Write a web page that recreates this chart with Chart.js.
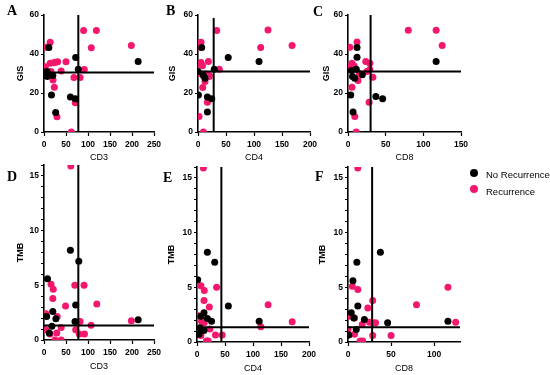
<!DOCTYPE html>
<html>
<head>
<meta charset="utf-8">
<script src="https://cdn.jsdelivr.net/npm/chart.js@4.4.1/dist/chart.umd.min.js"></script>
<style>
  body { margin: 0; background: #fff; width: 550px; height: 375px; position: relative; overflow: hidden;
         font-family: "Liberation Sans", Arial, sans-serif; }
  canvas { position: absolute; }
  .tag { position: absolute; font: bold 14px "Liberation Serif", "Times New Roman", serif; line-height: 1; }
  .key { position: absolute; font-size: 9.5px; line-height: 1; white-space: nowrap; }
  .key i { position: absolute; left: -16px; top: -1.5px; width: 8px; height: 8px; border-radius: 50%; }
</style>
</head>
<body>

<script>
// GIS vs CD3 / CD4 / CD8  (top row)
const gisCd3No  = [[11,43.3],[72,38.2],[78,32.2],[214,36.2],[7,31],[7,28.4],[20,29],[17,19],[26.5,10],[60,18],[71,17]];
const gisCd3Yes = [[5,43.4],[14,46],[90,52],[119,52],[107.5,43.2],[198.5,44.3],[3,33.5],[14,35.2],[22,35.5],[26,35.8],
                   [31,36],[50,36],[39,31.3],[16,31],[20.5,26.7],[23.5,22.9],[29.5,7.8],[62,0],[68,28],[82,28],[71,15],[91.6,32]];
const gisCd4No  = [[6.6,43.3],[54,38.2],[109,36.1],[29,32.2],[0,31],[9.6,29],[12.5,27.6],[0.7,19],[16.8,17.9],[24.5,17],[16.8,10.2]];
const gisCd4Yes = [[33.4,52],[125,52.3],[168,44.3],[112,43.3],[5.4,46],[1.8,43.5],[5.4,35.6],[18.5,36.1],[38,32.2],[20,29],
                   [12.5,25.9],[8.4,22.8],[16.8,15.2],[1.8,8],[9.6,0],[3,34.8],[8,34],[14,29.8],[20,28.4],[4,30]];
const gisCd8No  = [[12,43.3],[12,38.3],[11,32.2],[4.5,31.5],[6,28.4],[9,27.6],[19,29.3],[3.6,19],[6.7,10.2],[37,18.2],[46,17],[117,36.1]];
const gisCd8Yes = [[80,52.2],[117,52.2],[125,44.3],[2.3,43.5],[12,46.2],[5.3,35.3],[23.6,36.1],[29,35.3],[13.3,26.4],[5.3,23],
                   [9,8],[11,0],[28,15.3],[33,28.1],[1.3,33.5],[8,34],[25,31],[15,30],[29,32]];

// TMB vs CD3 / CD4 / CD8  (bottom row)
const tmbCd3No  = [[8,5.6],[60,8.2],[79,7.2],[72,3.2],[20,2.6],[6,2.16],[27,1.95],[70.5,1.7],[18,1.25],[12,0.64],[214,1.85]];
const tmbCd3Yes = [[61,15.9],[70,5],[91,5],[16,5.1],[21,4.65],[20,3.8],[49,3.1],[120,3.3],[30,2.16],[4.5,2.4],[198.5,1.76],
                   [82,1.7],[107,1.34],[39,1.15],[4,0.94],[13.6,0.55],[29,0.64],[25,0],[39,0],[72,0.94],[80,0.55],[92,0.55]];
const tmbCd4No  = [[18.5,8.2],[31.6,7.3],[1.25,5.7],[56,3.3],[12.5,2.67],[7,2.36],[18.5,2.15],[26,1.9],[5.4,1.3],[12.5,1.06],[3.6,0.7],[111,1.9]];
const tmbCd4Yes = [[11.4,15.9],[35,5],[7,5.15],[13,4.7],[12.5,3.8],[22,3.2],[2.5,2.4],[13,1.75],[23,1.2],[2.5,1.15],[7,0.6],
                   [33,0.64],[45,0.64],[20,0.1],[17,0.1],[127,3.4],[170,1.85],[114,1.4],[8,1.9]];
const tmbCd8No  = [[10.3,7.3],[5.7,5.6],[11.4,3.3],[3.8,2.67],[6.8,2.2],[19,2.06],[46,1.76],[1,0.64],[9.6,1.15],[37.6,8.2],[116,1.9]];
const tmbCd8Yes = [[11.4,15.9],[5,5.1],[11.4,4.8],[23,3.1],[28.7,3.8],[1,2.36],[7.6,2.2],[16.5,1.6],[28.7,1.76],[0,1.15],
                   [7.6,0.7],[17,0.1],[14,0.1],[28.7,0.6],[50,0.6],[79.5,3.4],[116,5],[125,1.8],[32,1.76],[25,1.8]];

// cut-off lines
const cutGis = [30.5, 31, 31];        // horizontal, panels A B C
const cutTmb = [1.33, 1.35, 1.35];    // horizontal, panels D E F
const cutCdGis = [78, 28, 30];        // vertical, panels A B C
const cutCdTmb = [78, 43.5, 28];      // vertical, panels D E F

// ticks
const cd3Ticks = [0, 50, 100, 150, 200, 250];
const cd4Ticks = [0, 50, 100, 150, 200];
const cd8Ticks = [0, 50, 100, 150];
const cd8TmbTicks = [0, 50, 100];
const gisTicks = [0, 20, 40, 60];
const tmbTicks = [0,1,2,3,4,5,6,7,8,9,10,11,12,13,14,15,16];
const tmbLabels = [0, 5, 10, 15];

const legendNames = ["No Recurrence", "Recurrence"];
const black = "#000000";
const pink = "#F3186E";

function axis(min, max, ticks, labels, title, bold, isX, titlePad) {
  return {
    type: "linear", min: min, max: max,
    afterBuildTicks: (s) => { s.ticks = ticks.map(v => ({ value: v })); },
    afterFit: (s) => { if (isX) s.height = 34; else s.width = 44; },
    ticks: {
      autoSkip: false, maxRotation: 0, padding: isX ? 4 : 2, color: black,
      font: { family: "Liberation Sans", size: 8.5, weight: "bold" },
      callback: (v) => labels.includes(v) ? v : ""
    },
    grid: { drawOnChartArea: false, drawTicks: true, tickLength: isX ? 4 : 3, color: black, tickWidth: 1.2 },
    border: { display: true, color: black, width: 1.6 },
    title: {
      display: true, text: title, color: black,
      font: { family: "Liberation Sans", size: 9, weight: bold ? "bold" : "normal" },
      padding: isX ? { top: 0, bottom: titlePad } : { top: titlePad, bottom: 0 }
    }
  };
}

function panel(box, xAxis, yAxis, noRec, rec, vx, vTop, hy) {
  const yW = 44, xH = 34, padT = 12, padR = 14;
  const cv = document.createElement("canvas");
  cv.width = (box[1] - box[0]) + yW + padR;
  cv.height = (box[3] - box[2]) + padT + xH;
  cv.style.left = (box[0] - yW) + "px";
  cv.style.top = (box[2] - padT) + "px";
  document.body.appendChild(cv);
  const line = (pts) => ({ data: pts, showLine: true, pointRadius: 0, borderColor: black, borderWidth: 2 });
  new Chart(cv, {
    type: "scatter",
    data: {
      datasets: [
        line([{ x: vx, y: yAxis.min }, { x: vx, y: vTop }]),
        line([{ x: xAxis.min, y: hy }, { x: xAxis.max, y: hy }]),
        { data: noRec.map(p => ({ x: p[0], y: p[1] })), backgroundColor: black, pointRadius: 3.5, borderWidth: 0 },
        { data: rec.map(p => ({ x: p[0], y: p[1] })), backgroundColor: pink, pointRadius: 3.5, borderWidth: 0 }
      ]
    },
    options: {
      responsive: false, animation: false, devicePixelRatio: 1,
      layout: { padding: { left: 0, top: padT, right: padR, bottom: 0 } },
      plugins: { legend: { display: false }, tooltip: { enabled: false } },
      scales: { x: xAxis, y: yAxis }
    }
  });
}

// top row: GIS
panel([44, 154, 15, 132], axis(0, 250, cd3Ticks, cd3Ticks, "CD3", false, true, 3),
      axis(0, 60, gisTicks, gisTicks, "GIS", true, false, 15), gisCd3No, gisCd3Yes, cutCdGis[0], 60, cutGis[0]);
panel([198, 310, 15, 132], axis(0, 200, cd4Ticks, cd4Ticks, "CD4", false, true, 3),
      axis(0, 60, gisTicks, gisTicks, "GIS", true, false, 13), gisCd4No, gisCd4Yes, cutCdGis[1], 58.5, cutGis[1]);
panel([348, 461, 15, 132], axis(0, 150, cd8Ticks, cd8Ticks, "CD8", false, true, 3),
      axis(0, 60, gisTicks, gisTicks, "GIS", true, false, 17), gisCd8No, gisCd8Yes, cutCdGis[2], 60, cutGis[2]);

// bottom row: TMB
panel([44, 154, 165, 340], axis(0, 250, cd3Ticks, cd3Ticks, "CD3", false, true, 2),
      axis(0, 16, tmbTicks, tmbLabels, "TMB", true, false, 15), tmbCd3No, tmbCd3Yes, cutCdTmb[0], 16, cutTmb[0]);
panel([197, 309, 167, 342], axis(0, 200, cd4Ticks, cd4Ticks, "CD4", false, true, 2),
      axis(0, 16, tmbTicks, tmbLabels, "TMB", true, false, 13), tmbCd4No, tmbCd4Yes, cutCdTmb[1], 16, cutTmb[1]);
panel([348, 460, 167, 342], axis(0, 130, cd8TmbTicks, cd8TmbTicks, "CD8", false, true, 2),
      axis(0, 16, tmbTicks, tmbLabels, "TMB", true, false, 13), tmbCd8No, tmbCd8Yes, cutCdTmb[2], 16, cutTmb[2]);

// panel letters
[["A", 7, 4], ["B", 166, 4], ["C", 313, 5], ["D", 7, 170], ["E", 163, 171], ["F", 315, 170]].forEach(t => {
  const d = document.createElement("div");
  d.className = "tag"; d.textContent = t[0];
  d.style.left = t[1] + "px"; d.style.top = t[2] + "px";
  document.body.appendChild(d);
});

// legend
legendNames.forEach((name, i) => {
  const d = document.createElement("div");
  d.className = "key";
  d.style.left = "486px"; d.style.top = (170 + i * 16.7) + "px";
  d.innerHTML = '<i style="background:' + (i ? pink : black) + '"></i>' + name;
  document.body.appendChild(d);
});
</script>
</body>
</html>
